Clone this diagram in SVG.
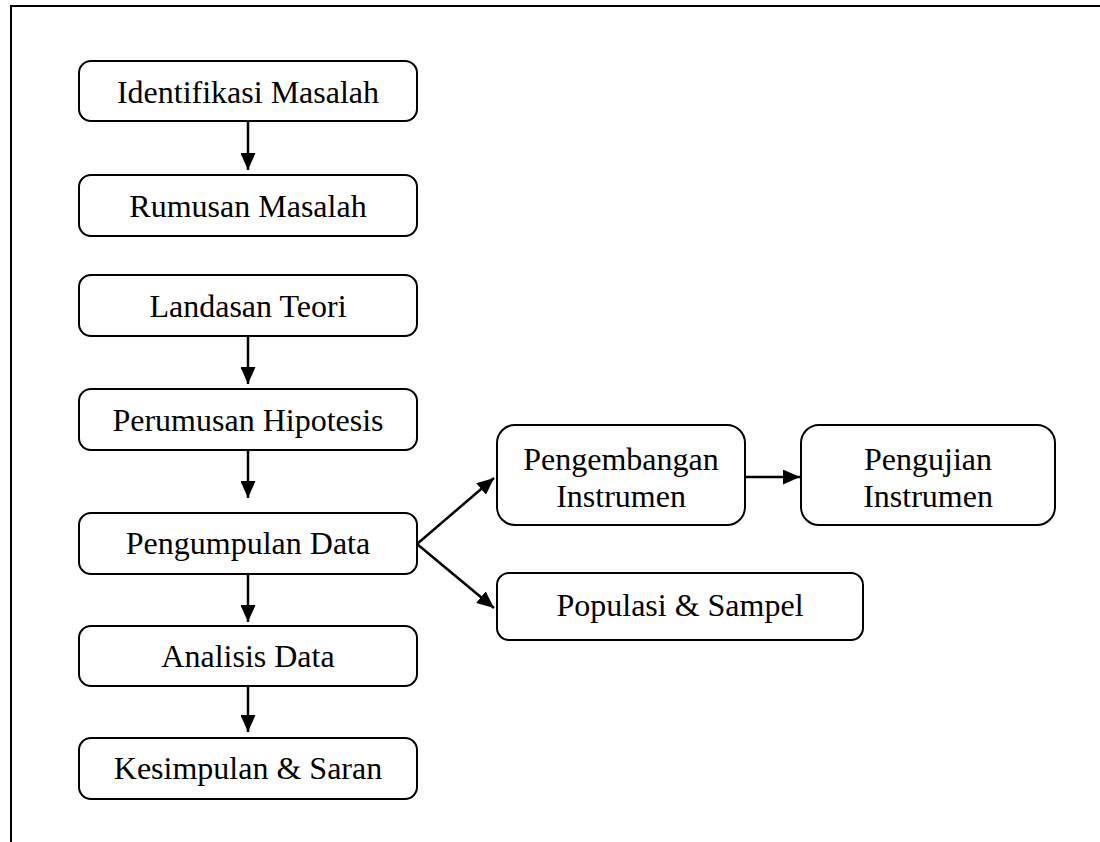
<svg xmlns="http://www.w3.org/2000/svg" width="1100" height="842" viewBox="0 0 1100 842">
<style>
.box{fill:#fff;stroke:#000;stroke-width:2}
.t{font-family:"Liberation Serif","Times New Roman",serif;font-size:32px;fill:#000;text-anchor:middle}
.c{stroke:#000;stroke-width:2.5;fill:none}
.f{stroke:#000;stroke-width:2;fill:none}
</style>
<defs>
<marker id="a" viewBox="0 0 17 15" refX="17" refY="7.5" markerWidth="17" markerHeight="15" markerUnits="userSpaceOnUse" orient="auto">
<path d="M0,0 L17,7.5 L0,15 Z" fill="#000"/>
</marker>
</defs>
<rect width="1100" height="842" fill="#fff"/>
<g id="frame">
<path d="M11,842 V6 H1100" class="f"/>
</g>
<g id="connectors">
<line x1="248" y1="121" x2="248" y2="170" class="c" marker-end="url(#a)"/>
<line x1="248" y1="336" x2="248" y2="384" class="c" marker-end="url(#a)"/>
<line x1="248" y1="450" x2="248" y2="498" class="c" marker-end="url(#a)"/>
<line x1="248" y1="574" x2="248" y2="622" class="c" marker-end="url(#a)"/>
<line x1="248" y1="686" x2="248" y2="732" class="c" marker-end="url(#a)"/>
<line x1="417" y1="544" x2="494" y2="478" class="c" marker-end="url(#a)"/>
<line x1="417" y1="544" x2="494" y2="608" class="c" marker-end="url(#a)"/>
<line x1="745" y1="477" x2="800" y2="477" class="c" marker-end="url(#a)"/>
</g>
<g id="n1"><rect class="box" x="79" y="61" width="338" height="60" rx="12"/><text class="t" x="248" y="103">Identifikasi Masalah</text></g>
<g id="n2"><rect class="box" x="79" y="175" width="338" height="61" rx="12"/><text class="t" x="248" y="217">Rumusan Masalah</text></g>
<g id="n3"><rect class="box" x="79" y="275" width="338" height="61" rx="12"/><text class="t" x="248" y="317">Landasan Teori</text></g>
<g id="n4"><rect class="box" x="79" y="389" width="338" height="61" rx="12"/><text class="t" x="248" y="431">Perumusan Hipotesis</text></g>
<g id="n5"><rect class="box" x="79" y="513" width="338" height="61" rx="12"/><text class="t" x="248" y="554">Pengumpulan Data</text></g>
<g id="n6"><rect class="box" x="79" y="626" width="338" height="60" rx="12"/><text class="t" x="248" y="667">Analisis Data</text></g>
<g id="n7"><rect class="box" x="79" y="738" width="338" height="61" rx="12"/><text class="t" x="248" y="779">Kesimpulan &amp; Saran</text></g>
<g id="n8"><rect class="box" x="497" y="425" width="248" height="100" rx="18"/><text class="t" x="621" y="470">Pengembangan</text><text class="t" x="621" y="507">Instrumen</text></g>
<g id="n9"><rect class="box" x="801" y="425" width="254" height="100" rx="18"/><text class="t" x="928" y="470">Pengujian</text><text class="t" x="928" y="507">Instrumen</text></g>
<g id="n10"><rect class="box" x="497" y="573" width="366" height="67" rx="12"/><text class="t" x="680" y="616">Populasi &amp; Sampel</text></g>
</svg>
